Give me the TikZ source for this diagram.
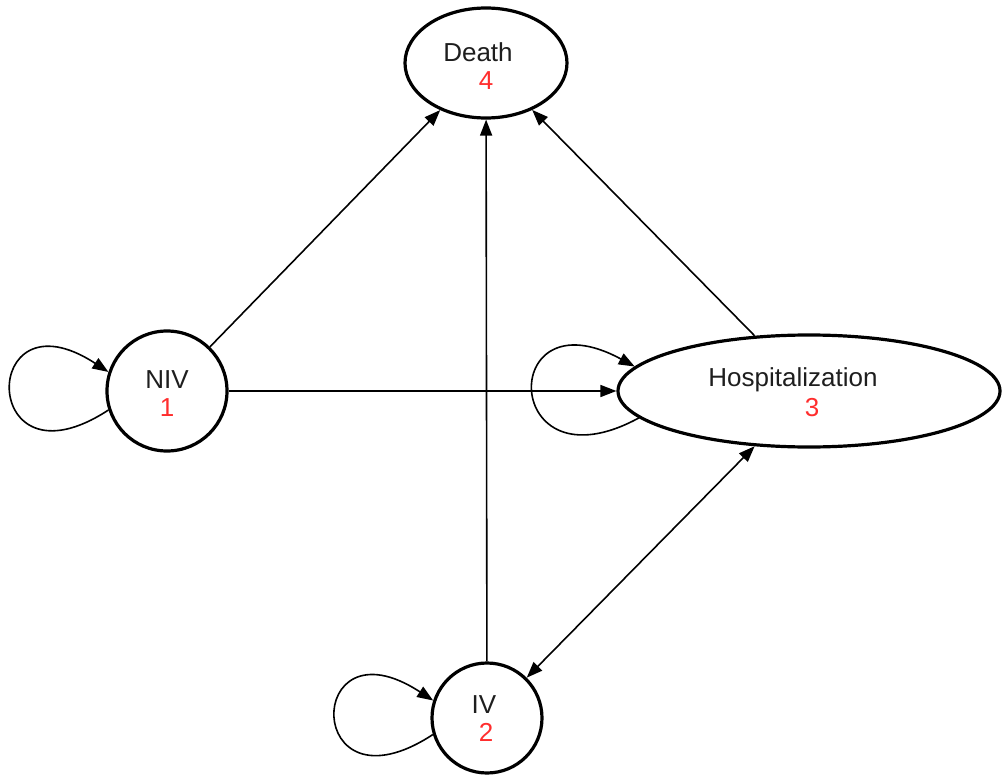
\documentclass[tikz,border=0pt]{standalone}
\usepackage{fontspec}
\setmainfont{Liberation Sans}
\usetikzlibrary{arrows.meta,shapes.geometric}
\definecolor{numred}{RGB}{255,45,45}
\definecolor{txt}{RGB}{30,30,30}

\begin{document}
\begin{tikzpicture}[x=1pt,y=-1pt,
  state/.style={draw=black,line width=3.2pt,inner sep=0pt},
  roundstate/.style={state,circle,minimum size=#1},
  ovalstate/.style n args={2}{state,ellipse,minimum width=#1,minimum height=#2},
  flow/.style={line width=1.6pt,-{Triangle[length=16pt,width=12pt]}},
  twoway/.style={line width=1.6pt,{Triangle[length=16pt,width=12pt]}-{Triangle[length=16pt,width=12pt]}},
  lbl/.style={anchor=base,inner sep=0pt,text=txt,font=\fontsize{26}{31}\selectfont},
  num/.style={lbl,text=numred}]
\useasboundingbox (0,0) rectangle (1002,776);

% states
\node[roundstate=120] (niv) at (167,391) {};
\node[roundstate=110] (iv) at (487,718) {};
\node[ovalstate={162}{110}] (death) at (486,63) {};
\node[ovalstate={382}{112}] (hosp) at (809,391) {};

% state labels and numbers
\node[lbl] (nivname) at (167,388) {NIV};
\node[num] (nivnum) at (167,416) {1};
\node[lbl] (ivname) at (484,713) {IV};
\node[num] (ivnum) at (486,741) {2};
\node[lbl] (hospname) at (793,386) {Hospitalization};
\node[num] (hospnum) at (812,416) {3};
\node[lbl] (deathname) at (478,62) {Death};
\node[num] (deathnum) at (486,90) {4};

% transitions
\draw[flow] (niv) -- (death);
\draw[flow] (hosp) -- (death);
\draw[flow] (iv) -- (death);
\draw[flow] (niv) -- (hosp);
\draw[twoway] (hosp) -- (iv);

% staying in the same state
\draw[flow] (niv.198) .. controls +(-130,85) and +(-130,-85) .. (niv.162);
\draw[flow] (hosp.189) .. controls +(-138,75) and +(-138,-75) .. (hosp.172);
\draw[flow] (iv.197) .. controls +(-130,85) and +(-130,-85) .. (iv.162);
\end{tikzpicture}
\end{document}
